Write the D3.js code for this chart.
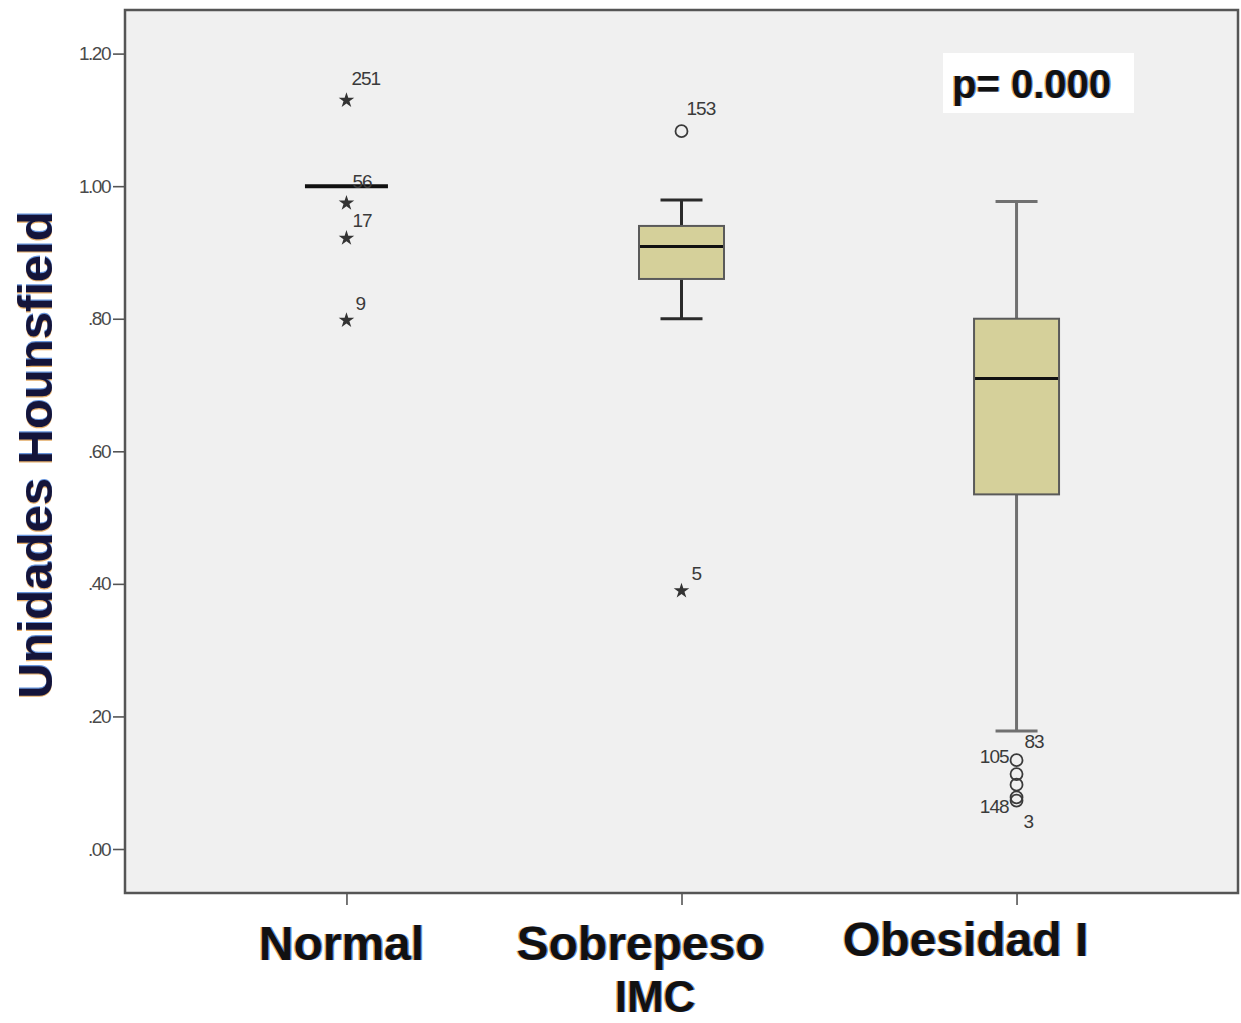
<!DOCTYPE html>
<html>
<head>
<meta charset="utf-8">
<script src="https://cdn.jsdelivr.net/npm/d3@7"></script>
<style>
  html, body { margin: 0; padding: 0; background: #ffffff; }
  svg { display: block; }
</style>
</head>
<body>
<svg id="chart" width="1241" height="1023"></svg>
<script>
// ---------- data ----------
const groups      = ["Normal", "Sobrepeso", "Obesidad I"];
const q1          = [1.000, 0.860, 0.535];
const medians     = [1.000, 0.909, 0.710];
const q3          = [1.000, 0.940, 0.800];
const whiskerLow  = [1.000, 0.800, 0.178];
const whiskerHigh = [1.000, 0.979, 0.977];

const outlierGroup  = ["Normal", "Normal", "Normal", "Normal", "Sobrepeso", "Sobrepeso",
                       "Obesidad I", "Obesidad I", "Obesidad I", "Obesidad I", "Obesidad I"];
const outlierValues = [1.131, 0.976, 0.923, 0.799, 1.083, 0.391,
                       0.134, 0.113, 0.097, 0.078, 0.073];
const outlierKind   = ["extreme", "extreme", "extreme", "extreme", "mild", "extreme",
                       "mild", "mild", "mild", "mild", "mild"];
const outlierIds    = ["251", "56", "17", "9", "153", "5", "105", "83", "", "3", "148"];

const yTicks      = [0.0, 0.2, 0.4, 0.6, 0.8, 1.0, 1.2];
const yTickLabels = [".00", ".20", ".40", ".60", ".80", "1.00", "1.20"];
const yTitle = "Unidades Hounsfield";
const xTitle = "IMC";
const pText  = "p= 0.000";

// label placement (styling only)
const labelDx     = [5, 6, 6, 9, 5, 10, -8, 8, 0, 7, -8];
const labelDy     = [-14, -14, -10, -9, -16, -10, 3, -26, 0, 31, 12];
const labelAnchor = ["start", "start", "start", "start", "start", "start",
                     "end", "start", "start", "start", "end"];
const groupLabelShift = [-5, -41, -51];

// ---------- layout ----------
const svg = d3.select("#chart");
const plot = { left: 125, right: 1238, top: 10, bottom: 893 };

const x = d3.scalePoint().domain(groups).range([plot.left, plot.right]).padding(0.661);
const y = d3.scaleLinear().domain([0, 1.2]).range([849, 53.6]);

const boxW = 85, capW = 42;
const FONT = "'Liberation Sans', Arial, Helvetica, sans-serif";

// background
svg.append("rect")
  .attr("x", plot.left).attr("y", plot.top)
  .attr("width", plot.right - plot.left).attr("height", plot.bottom - plot.top)
  .attr("fill", "#f0f0f0");

// y axis
const yAxis = d3.axisLeft(y).tickValues(yTicks)
  .tickFormat((d, i) => yTickLabels[i]).tickSize(12).tickPadding(3);
const gy = svg.append("g").attr("transform", `translate(${plot.left},0)`).call(yAxis);
gy.select(".domain").remove();
gy.selectAll(".tick line").attr("stroke", "#555").attr("stroke-width", 1.6);
gy.selectAll(".tick text").attr("font-family", FONT).attr("font-size", 19)
  .attr("fill", "#4a4a4a").attr("letter-spacing", -1.5);

// x axis
const xAxis = d3.axisBottom(x).tickSize(12).tickFormat("");
const gx = svg.append("g").attr("transform", `translate(0,${plot.bottom})`).call(xAxis);
gx.select(".domain").remove();
gx.selectAll(".tick line").attr("stroke", "#555").attr("stroke-width", 1.6);

// frame
svg.append("rect")
  .attr("x", plot.left).attr("y", plot.top)
  .attr("width", plot.right - plot.left).attr("height", plot.bottom - plot.top)
  .attr("fill", "none").attr("stroke", "#555").attr("stroke-width", 2.5);

// boxes
const whiskerColor = ["#222", "#2a2a2a", "#707070"];
groups.forEach((g, i) => {
  const cx = x(g);
  const gg = svg.append("g");
  if (q3[i] !== q1[i]) {
    gg.append("line").attr("x1", cx).attr("x2", cx)
      .attr("y1", y(whiskerHigh[i])).attr("y2", y(q3[i]))
      .attr("stroke", whiskerColor[i]).attr("stroke-width", 3);
    gg.append("line").attr("x1", cx).attr("x2", cx)
      .attr("y1", y(q1[i])).attr("y2", y(whiskerLow[i]))
      .attr("stroke", whiskerColor[i]).attr("stroke-width", 3);
    gg.append("line").attr("x1", cx - capW / 2).attr("x2", cx + capW / 2)
      .attr("y1", y(whiskerHigh[i])).attr("y2", y(whiskerHigh[i]))
      .attr("stroke", whiskerColor[i]).attr("stroke-width", 3);
    gg.append("line").attr("x1", cx - capW / 2).attr("x2", cx + capW / 2)
      .attr("y1", y(whiskerLow[i])).attr("y2", y(whiskerLow[i]))
      .attr("stroke", whiskerColor[i]).attr("stroke-width", 3);
    gg.append("rect")
      .attr("x", cx - boxW / 2).attr("y", y(q3[i]))
      .attr("width", boxW).attr("height", y(q1[i]) - y(q3[i]))
      .attr("fill", "#d5d09a").attr("stroke", "#5a5a5a").attr("stroke-width", 2);
  }
  gg.append("line").attr("x1", cx - boxW / 2 + 1).attr("x2", cx + boxW / 2 - 1)
    .attr("y1", y(medians[i])).attr("y2", y(medians[i]))
    .attr("stroke", "#111").attr("stroke-width", q3[i] === q1[i] ? 4 : 3);
});

// outliers
const star = d3.symbol().type(d3.symbolStar).size(75);
outlierValues.forEach((v, i) => {
  const cx = x(outlierGroup[i]);
  const cy = y(v);
  if (outlierKind[i] === "extreme") {
    svg.append("path").attr("d", star).attr("transform", `translate(${cx},${cy + 1})`)
      .attr("fill", "#333");
  } else {
    svg.append("circle").attr("cx", cx).attr("cy", cy).attr("r", 6)
      .attr("fill", "none").attr("stroke", "#3a3a3a").attr("stroke-width", 1.8);
  }
  if (outlierIds[i]) {
    svg.append("text").attr("x", cx + labelDx[i]).attr("y", cy + labelDy[i])
      .attr("text-anchor", labelAnchor[i])
      .attr("font-family", FONT).attr("font-size", 19).attr("letter-spacing", -1)
      .attr("fill", "#3a3a3a").text(outlierIds[i]);
  }
});

// p-value box
svg.append("rect").attr("x", 943).attr("y", 53).attr("width", 191).attr("height", 60)
  .attr("fill", "#ffffff");

// fringe text helper (mimics the chromatic fringing of the source)
function fringeText(parent, txt, size, fill, attrs) {
  const offs = [[-1.2, "#d98a2a", 0.7], [1.2, "#2a6ad0", 0.7], [0, fill, 1]];
  offs.forEach(([d, c, o]) => {
    const t = parent.append("text").text(txt)
      .attr("font-family", FONT).attr("font-weight", "bold").attr("font-size", size)
      .attr("fill", c).attr("opacity", o);
    Object.entries(attrs).forEach(([k, val]) => t.attr(k, val));
    t.attr("dx", d);
  });
}

fringeText(svg, pText, 40, "#111", { x: 952, y: 98 });

// y title
const yt = svg.append("g").attr("transform", "translate(52,455) rotate(-90)");
fringeText(yt, yTitle, 49, "#14143a", { x: 0, y: 0, "text-anchor": "middle" });

// group labels
groups.forEach((g, i) => {
  fringeText(svg, g, 48, "#111", {
    x: x(g) + groupLabelShift[i], y: i === 2 ? 956 : 960, "text-anchor": "middle"
  });
});
fringeText(svg, xTitle, 44, "#111", { x: 655, y: 1012, "text-anchor": "middle" });
</script>
</body>
</html>
